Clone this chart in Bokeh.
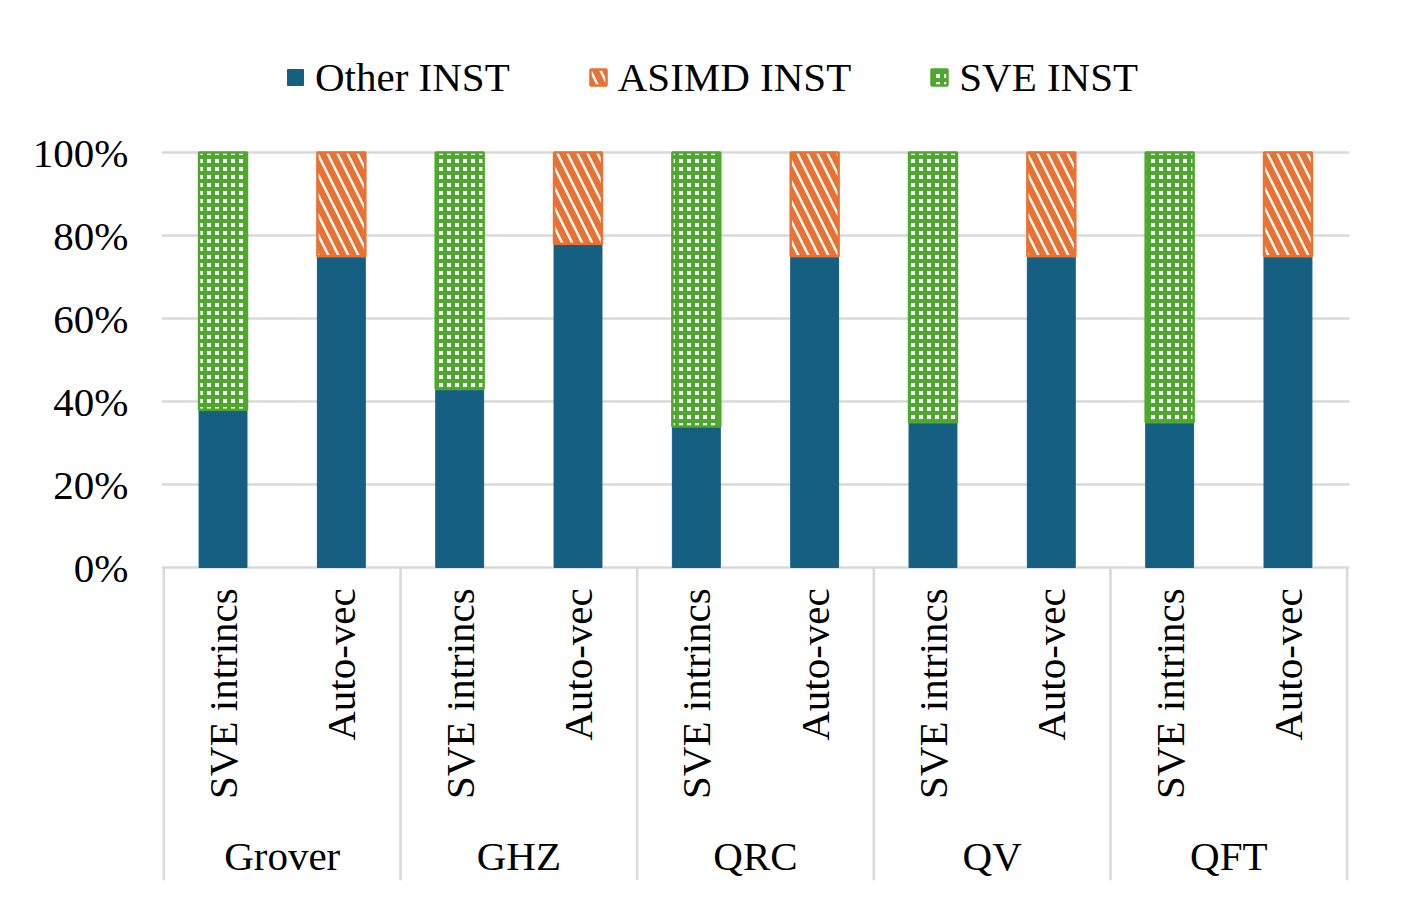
from math import pi
from bokeh.plotting import figure
from bokeh.models import FactorRange, Legend, LegendItem, ColumnDataSource, FixedTicker
from bokeh.core.properties import value
from bokeh.embed import file_html
from bokeh.resources import INLINE

groups = ["Grover", "GHZ", "QRC", "QV", "QFT"]
variants = ["SVE intrincs", "Auto-vec"]
other_inst = [0.38, 0.75, 0.43, 0.78, 0.34, 0.75, 0.35, 0.75, 0.35, 0.75]
asimd_inst = [0.0, 0.25, 0.0, 0.22, 0.0, 0.25, 0.0, 0.25, 0.0, 0.25]
sve_inst = [0.62, 0.0, 0.57, 0.0, 0.66, 0.0, 0.65, 0.0, 0.65, 0.0]
y_ticks = [0, 0.2, 0.4, 0.6, 0.8, 1.0]
y_tick_labels = ["0%", "20%", "40%", "60%", "80%", "100%"]
series_names = ["Other INST", "ASIMD INST", "SVE INST"]

BLUE = "#156082"
ORANGE = "#E97132"
GREEN = "#4EA72E"
GRID = "#d9d9d9"
FONT = "Liberation Serif"
FS = "41px"

factors = [(g, v) for g in groups for v in variants]

# frame: page y 28..880 ; 0% at y=567, 100% at y=152
Y_TOP = (567 - 28) / 415.0
Y_BOT = (567 - 880) / 415.0

x_range = FactorRange(*factors, range_padding=0.02, range_padding_units="absolute",
                      group_padding=0, factor_padding=0)
p = figure(x_range=x_range, y_range=(Y_BOT, Y_TOP), width=1393, height=904,
           output_backend="svg", toolbar_location=None, x_axis_location=None,
           min_border_left=161, min_border_right=44, min_border_top=28, min_border_bottom=24)
p.outline_line_color = None
p.background_fill_color = "white"

# y axis
ya = p.yaxis[0]
ya.ticker = FixedTicker(ticks=y_ticks)
ya.major_label_overrides = {t: l for t, l in zip(y_ticks, y_tick_labels)}
ya.bounds = (0, 1)
ya.axis_line_color = None
ya.major_tick_line_color = None
ya.minor_tick_line_color = None
ya.major_tick_out = 0
ya.major_tick_in = 0
ya.major_label_standoff = 33
ya.major_label_text_font = FONT
ya.major_label_text_font_size = FS
ya.major_label_text_color = "black"

p.xgrid.visible = False
p.ygrid.grid_line_color = GRID
p.ygrid.grid_line_width = 2.5
p.ygrid.bounds = (0, 1)

# bars
src_other = ColumnDataSource(dict(x=factors, bottom=[0] * len(factors), top=other_inst))
r_other = p.vbar(x="x", bottom="bottom", top="top", width=0.405, source=src_other,
                 fill_color=BLUE, line_color=BLUE, line_width=1)

def stacked(vals, base):
    xs, b, t = [], [], []
    for f, v, b0 in zip(factors, vals, base):
        if v > 0:
            xs.append(f)
            b.append(b0)
            t.append(b0 + v)
    return ColumnDataSource(dict(x=xs, bottom=b, top=t))

src_asimd = stacked(asimd_inst, other_inst)
r_asimd = p.vbar(x="x", bottom="bottom", top="top", width=0.405, source=src_asimd,
                 fill_color="white", line_color=ORANGE, line_width=2.5,
                 hatch_pattern="left_diagonal_line", hatch_color=ORANGE,
                 hatch_scale=20, hatch_weight=6.5)
base_sve = [o + a for o, a in zip(other_inst, asimd_inst)]
src_sve = stacked(sve_inst, base_sve)
r_sve = p.vbar(x="x", bottom="bottom", top="top", width=0.405, source=src_sve,
               fill_color="white", line_color=GREEN, line_width=2.5,
               hatch_pattern="cross", hatch_color=GREEN,
               hatch_scale=8, hatch_weight=4)

# category labels
sub_src = ColumnDataSource(dict(x=factors, text=[f[1] for f in factors]))
p.text(x="x", y=-0.05, text="text", source=sub_src, angle=pi / 2,
       text_align="right", text_baseline="middle",
       text_font=value(FONT), text_font_size=FS, text_color="black")
grp_src = ColumnDataSource(dict(x=groups, text=groups))
p.text(x="x", y=-0.696, text="text", source=grp_src,
       text_align="center", text_baseline="middle",
       text_font=value(FONT), text_font_size=FS, text_color="black")

# separators
sep_x = [[g, -1.0] for g in groups] + [[groups[-1], 1.0]]
sep_src = ColumnDataSource(dict(x=sep_x))
p.segment(x0="x", y0=0, x1="x", y1=Y_BOT, source=sep_src,
          line_color=GRID, line_width=2.5)

legend = Legend(items=[LegendItem(label=series_names[0], renderers=[r_other]),
                       LegendItem(label=series_names[1], renderers=[r_asimd]),
                       LegendItem(label=series_names[2], renderers=[r_sve])],
                orientation="horizontal", location=(124, 779))
legend.label_text_font = FONT
legend.label_text_font_size = FS
legend.label_text_color = "black"
legend.glyph_width = 20
legend.glyph_height = 20
legend.label_standoff = 10
legend.spacing = 78
legend.border_line_color = None
legend.background_fill_alpha = 0
legend.margin = 0
legend.padding = 0
p.add_layout(legend, "center")

open("out.html", "w").write(file_html(p, INLINE))
